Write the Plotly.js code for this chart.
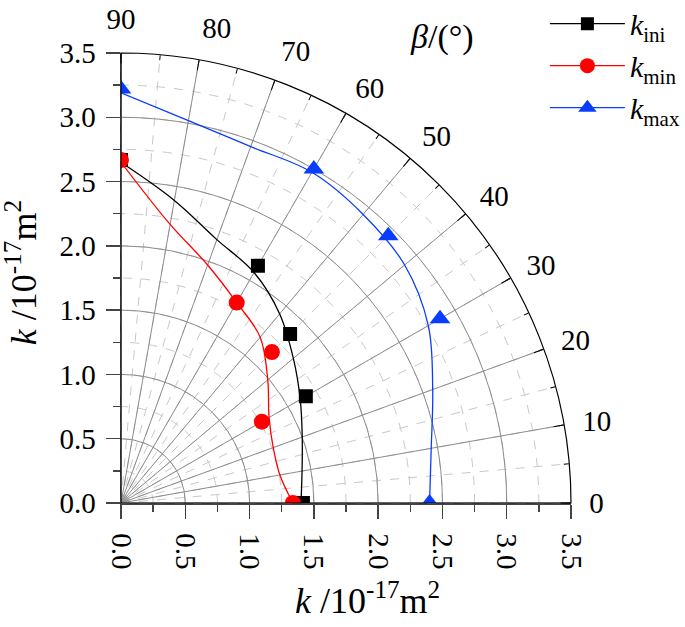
<!DOCTYPE html>
<html>
<head>
<meta charset="utf-8">
<script src="https://cdn.plot.ly/plotly-3.0.1.min.js"></script>
<style>
  html, body { margin: 0; padding: 0; background: #ffffff; }
  #chart { width: 685px; height: 627px; }
</style>
</head>
<body>
<div id="chart"></div>
<script>
// measured points (beta in degrees, k in 1e-17 m^2)
const betaMarks = [0, 30, 45, 60, 90];
const kIni = [1.415, 1.66, 1.86, 2.13, 2.667];
const kMin = [1.337, 1.265, 1.66, 1.80, 2.667];
const kMax = [2.40, 2.865, 2.94, 3.0, 3.22];

// fitted curves, every 10 degrees
const betaCurve = [0, 10, 20, 30, 40, 50, 60, 70, 80, 90];
const kIniCurve = [1.40, 1.43, 1.50, 1.61, 1.75, 1.92, 2.07, 2.18, 2.39, 2.65];
const kMinCurve = [1.337, 1.255, 1.26, 1.33, 1.49, 1.684, 1.80, 1.97, 2.20, 2.65];
const kMaxCurve = [2.40, 2.45, 2.58, 2.76, 2.88, 2.93, 2.97, 2.95, 3.02, 3.19];

const radialTicks = [0, 0.5, 1.0, 1.5, 2.0, 2.5, 3.0, 3.5];
const angleTicks = [0, 10, 20, 30, 40, 50, 60, 70, 80, 90];

const serif = 'Liberation Serif';
const cBlack = '#000000', cRed = '#ff0000', cBlue = '#0a3cff';
const kTitle = '<i>k</i> /10<sup>-17</sup>m<sup>2</sup>';

const series = [
    { name: '<i>k</i><sub>ini</sub>', marks: kIni, curve: kIniCurve, color: cBlack, symbol: 'square', size: 14 },
    { name: '<i>k</i><sub>min</sub>', marks: kMin, curve: kMinCurve, color: cRed, symbol: 'circle', size: 16 },
    { name: '<i>k</i><sub>max</sub>', marks: kMax, curve: kMaxCurve, color: cBlue, symbol: 'triangle-up', size: 18 }
];

const traces = [];
// empty traces so the background grid (polar) and the label ring (polar3) get drawn
['polar', 'polar3'].forEach(p => {
    traces.push({ type: 'scatterpolar', subplot: p, r: [null], theta: [null], mode: 'markers',
        cliponaxis: true, showlegend: false, hoverinfo: 'skip' });
});
series.forEach(s => {
    traces.push({
        type: 'scatterpolar', subplot: 'polar2', mode: 'lines', cliponaxis: true,
        r: s.curve, theta: betaCurve, line: { color: s.color, width: 1.3, shape: 'spline' },
        showlegend: false, hoverinfo: 'skip'
    });
    traces.push({
        type: 'scatterpolar', subplot: 'polar2', mode: 'markers', cliponaxis: true,
        r: s.marks, theta: betaMarks, marker: { color: s.color, symbol: s.symbol, size: s.size },
        showlegend: false
    });
});
// legend-only entries (line-marker-line symbol)
series.forEach(s => {
    traces.push({
        type: 'scatterpolar', subplot: 'polar2', mode: 'lines+markers', name: s.name, cliponaxis: true,
        r: [null], theta: [null],
        line: { color: s.color, width: 1.3 }, marker: { color: s.color, symbol: s.symbol, size: s.size - 1 }
    });
});
// dummy cartesian trace so the x/y axes are drawn
traces.push({ x: [null], y: [null], type: 'scatter', mode: 'markers', showlegend: false, hoverinfo: 'skip' });

const axisCommon = {
    range: [0, 3.5], tickvals: radialTicks, tickformat: '.1f', automargin: false,
    showgrid: false, zeroline: false, showline: true, linecolor: '#444', linewidth: 1.5,
    ticks: 'outside', ticklen: 14, tickwidth: 1.5, tickcolor: '#444',
    minor: { dtick: 0.25, ticks: 'outside', ticklen: 7, tickwidth: 1.5, tickcolor: '#444', showgrid: false },
    tickfont: { family: serif, size: 29, color: '#000' }
};

const polarBase = {
    domain: { x: [0, 1], y: [0, 1] }, sector: [0, 90], bgcolor: 'rgba(0,0,0,0)'
};

const layout = {
    width: 685, height: 627,
    margin: { l: 121, r: 114, t: 53, b: 124, autoexpand: false },
    paper_bgcolor: '#ffffff', plot_bgcolor: '#ffffff',
    font: { family: serif, color: '#000' },
    xaxis: Object.assign({}, axisCommon, { tickangle: 90, ticklabelstandoff: 9 }),
    yaxis: Object.assign({}, axisCommon, { ticklabelstandoff: 4 }),
    // dashed minor grid + short inside ticks every 5 deg
    polar: Object.assign({}, polarBase, {
        radialaxis: { range: [0, 3.5], dtick: 0.25, showticklabels: false, ticks: '', showline: false,
            gridcolor: '#c8c8c8', griddash: 'dash', gridwidth: 1 },
        angularaxis: { direction: 'counterclockwise', rotation: 0, dtick: 5, showticklabels: false,
            ticks: 'inside', ticklen: 5, tickcolor: '#000', showline: false,
            gridcolor: '#c8c8c8', griddash: 'dash', gridwidth: 1 }
    }),
    // solid major grid, outer arc, major inside ticks, data
    polar2: Object.assign({}, polarBase, {
        radialaxis: { range: [0, 3.5], tickvals: radialTicks, showticklabels: false, ticks: '', showline: false,
            gridcolor: '#8c8c8c', gridwidth: 1 },
        angularaxis: { direction: 'counterclockwise', rotation: 0, tickmode: 'array', tickvals: angleTicks,
            showticklabels: false, ticks: 'inside', ticklen: 10, tickcolor: '#000', tickwidth: 1,
            showline: true, linecolor: '#000', linewidth: 1.2,
            gridcolor: '#8c8c8c', gridwidth: 1 }
    }),
    // angle labels, pushed out by invisible outside ticks
    polar3: Object.assign({}, polarBase, {
        radialaxis: { range: [0, 3.5], visible: false, showgrid: false },
        angularaxis: { direction: 'counterclockwise', rotation: 0, tickmode: 'array',
            tickvals: angleTicks, ticktext: angleTicks.map(String),
            ticks: 'outside', ticklen: 12, tickcolor: 'rgba(0,0,0,0)', showline: false, showgrid: false,
            tickfont: { family: serif, size: 29, color: '#000' } }
    }),
    legend: {
        x: 0.942, y: 1.123, xanchor: 'left', yanchor: 'top',
        bgcolor: 'rgba(0,0,0,0)', itemwidth: 75, tracegroupgap: 0,
        font: { family: serif, size: 30, color: '#000' }
    },
    annotations: [
        { text: '<i>β</i>/(°)', xref: 'paper', yref: 'paper', x: 0.714, y: 1.036,
          xanchor: 'center', yanchor: 'middle',
          showarrow: false, font: { family: serif, size: 34, color: '#000' } },
        { text: kTitle, xref: 'paper', yref: 'paper', x: 0.547, y: -0.213,
          xanchor: 'center', yanchor: 'middle',
          showarrow: false, font: { family: serif, size: 36, color: '#000' } },
        { text: kTitle, xref: 'paper', yref: 'paper', x: -0.222, y: 0.511, textangle: -90,
          xanchor: 'center', yanchor: 'middle',
          showarrow: false, font: { family: serif, size: 36, color: '#000' } }
    ]
};

Plotly.newPlot('chart', traces, layout, { displayModeBar: false, staticPlot: true });
</script>
</body>
</html>
